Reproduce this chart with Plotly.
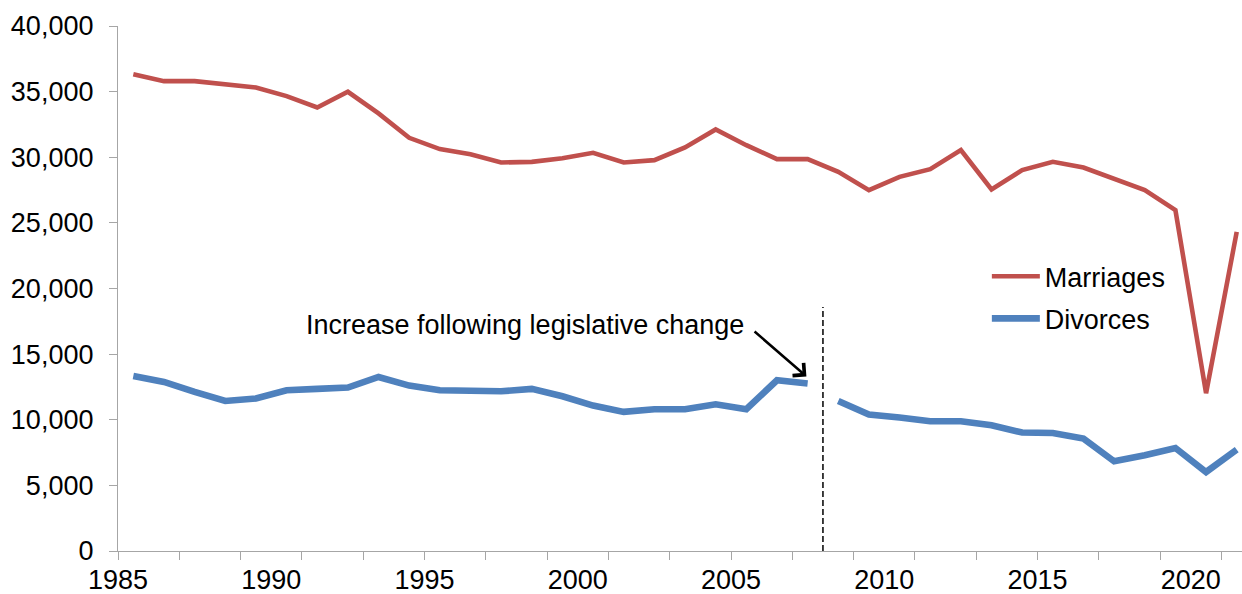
import plotly.graph_objects as go

# Annual counts, 1985-2021
years = list(range(1985, 2022))

marriages = [36330, 35800, 35800, 35570, 35320, 34660, 33790, 34990, 33340, 31480,
             30620, 30235, 29600, 29650, 29930, 30335, 29600, 29780, 30750, 32120,
             30920, 29860, 29860, 28890, 27490, 28505, 29090, 30540, 27545, 29020,
             29650, 29220, 28380, 27490, 25970, 12020, 24310]

divorces = [13340, 12880, 12120, 11430, 11615, 12250, 12350, 12450, 13260, 12600,
            12250, 12250, 12170, 12350, 11790, 11080, 10600, 10800, 10800, 11180,
            10800, 13010, 12760, 11430, 10395, 10165, 9885, 9885, 9580, 9025,
            8995, 8565, 6835, 7290, 7850, 6020, 7730]

# Series break: divorce figures before / after the legislative change
break_year = 2008

tick_mark_years = list(range(1985, 2023, 2))
label_years = list(range(1985, 2021, 5))

RED = "#c0504d"
BLUE = "#4f81bd"
AXIS_GREY = "#a6a6a6"
FONT = "Liberation Sans, Arial, sans-serif"
FS = 27

fig = go.Figure()

fig.add_trace(go.Scatter(
    x=years, y=marriages, mode="lines", name="Marriages",
    line=dict(color=RED, width=4.6),
))

pre = [i for i, y in enumerate(years) if y < break_year]
post = [i for i, y in enumerate(years) if y >= break_year]
fig.add_trace(go.Scatter(
    x=[years[i] for i in pre], y=[divorces[i] for i in pre], mode="lines",
    name="Divorces", legendgroup="div", showlegend=False,
    line=dict(color=BLUE, width=6.6),
))
fig.add_trace(go.Scatter(
    x=[years[i] for i in post], y=[divorces[i] for i in post], mode="lines",
    name="Divorces", legendgroup="div",
    line=dict(color=BLUE, width=6.6),
))

# Empty trace so the overlaid tick-mark axis is drawn
fig.add_trace(go.Scatter(x=[None], y=[None], xaxis="x2", mode="lines",
                         showlegend=False, hoverinfo="skip"))

# Dashed divider at the legislative change
fig.add_shape(type="line", xref="x", yref="y",
              x0=break_year - 0.5, x1=break_year - 0.5, y0=0, y1=18600,
              line=dict(color="black", width=1.5, dash="6px,3px"))

# Annotation text and arrow to the 2007 point
fig.add_annotation(x=2005.0, y=17250, xref="x", yref="y",
                   text="Increase following legislative change",
                   showarrow=False, xanchor="right", yanchor="middle",
                   font=dict(family=FONT, size=FS, color="black"))
fig.add_annotation(x=2006.96, y=13300, xref="x", yref="y",
                   ax=2005.22, ay=16820, axref="x", ayref="y",
                   text="", showarrow=True, arrowhead=4, arrowsize=1.3,
                   arrowwidth=2.5, arrowcolor="black")

x_lo = 1984.5
x_hi = 1984.5 + 1124 / 30.65

fig.update_layout(
    width=1242, height=594,
    margin=dict(l=118, r=0, t=26, b=43),
    paper_bgcolor="white", plot_bgcolor="white",
    font=dict(family=FONT, size=FS, color="black"),
    showlegend=True,
    legend=dict(x=0.773, y=0.569, xanchor="left", yanchor="top",
                bgcolor="rgba(0,0,0,0)", font=dict(size=FS),
                itemwidth=48, tracegroupgap=4),
    # year labels
    xaxis=dict(
        range=[x_lo, x_hi], showgrid=False, zeroline=False,
        showline=True, linecolor=AXIS_GREY, linewidth=1.3,
        ticks="", tickvals=[y - 0.5 for y in label_years],
        ticktext=[str(y) for y in label_years],
        tickfont=dict(size=FS, color="black"), ticklabelstandoff=4,
    ),
    # tick marks every two years
    xaxis2=dict(
        range=[x_lo, x_hi], overlaying="x", anchor="y", side="bottom",
        showgrid=False, zeroline=False, showline=False,
        ticks="outside", ticklen=8, tickcolor=AXIS_GREY, tickwidth=1.3,
        tickvals=[y - 0.5 for y in tick_mark_years], showticklabels=False,
    ),
    yaxis=dict(
        range=[0, 40000], showgrid=False, zeroline=False,
        showline=True, linecolor=AXIS_GREY, linewidth=1.3,
        ticks="outside", ticklen=8, tickcolor=AXIS_GREY, tickwidth=1.3,
        tickvals=list(range(0, 40001, 5000)), tickformat=",d",
        tickfont=dict(size=FS, color="black"), ticklabelstandoff=10,
    ),
)

fig.write_html("out.html")
